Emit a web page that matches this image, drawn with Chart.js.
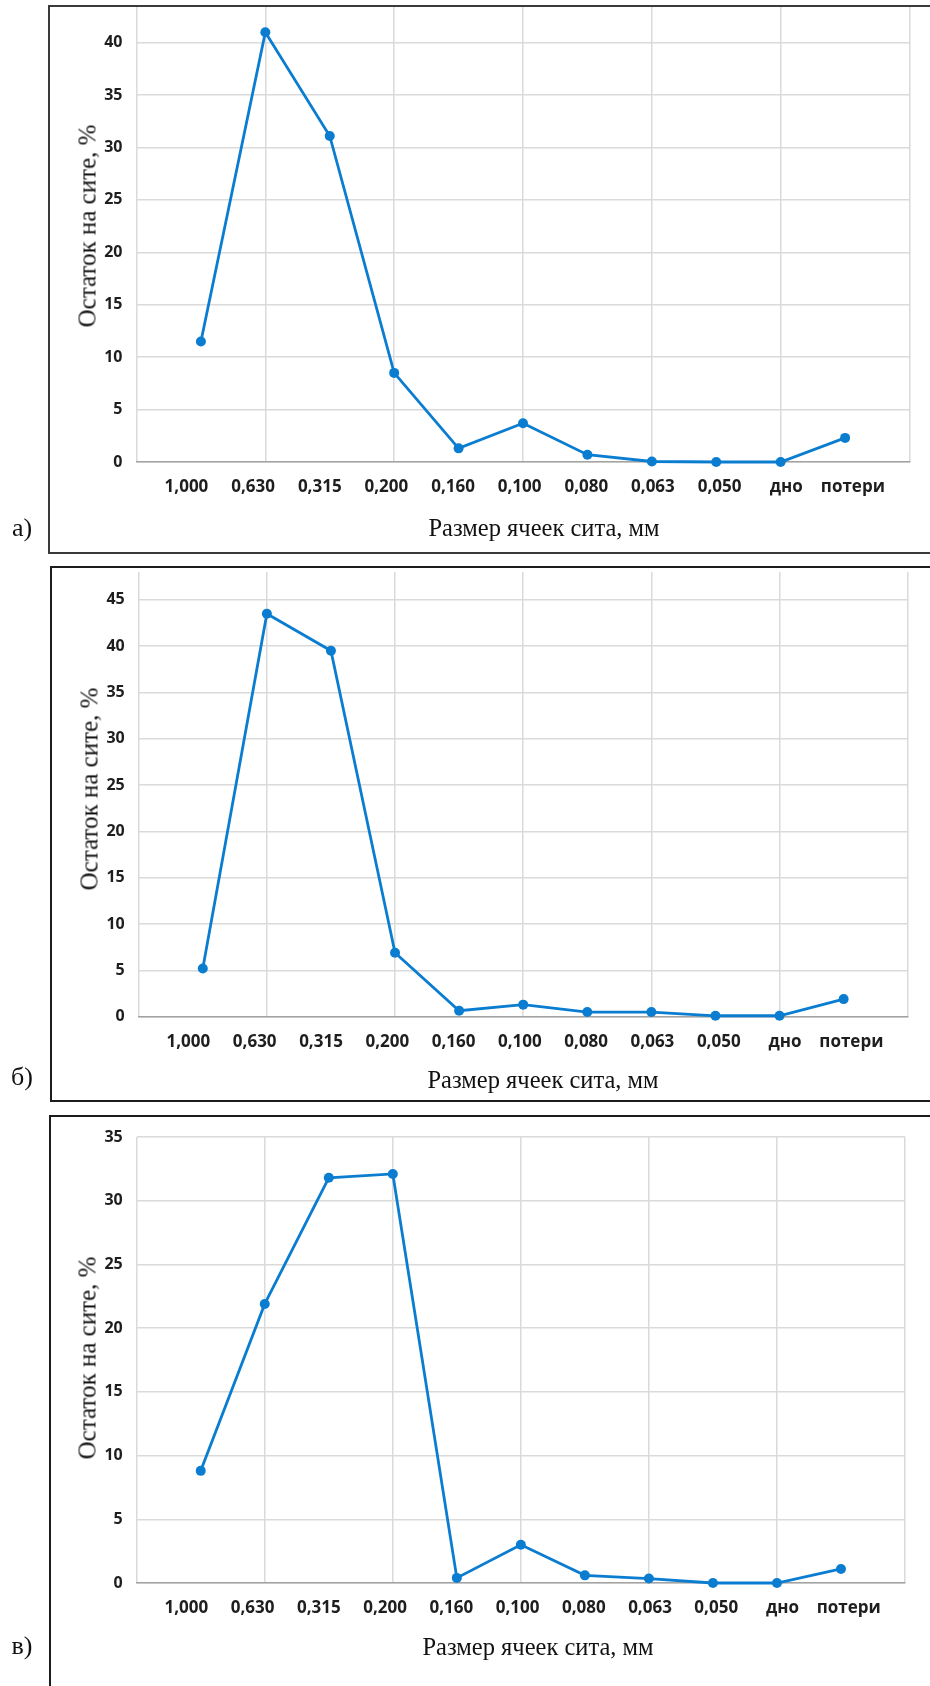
<!DOCTYPE html>
<html lang="ru">
<head>
<meta charset="utf-8">
<title>Остаток на сите</title>
<script src="https://cdn.jsdelivr.net/npm/chart.js@4.4.1/dist/chart.umd.min.js"></script>
<style>
  html, body { margin: 0; padding: 0; background: #fff; }
  body { position: relative; width: 930px; height: 1686px; overflow: hidden; }
  canvas { position: absolute; left: 0; }
  .box { position: absolute; box-sizing: border-box; border: 2px solid #1c1c1c; pointer-events: none; z-index: 2; }
  .xtitle, .ytitle, .letter {
    position: absolute; font-family: 'Liberation Serif', 'Times New Roman', serif;
    color: #111; white-space: nowrap; line-height: 1;
  }
  .xtitle { font-size: 24.5px; transform: translate(-50%, -50%); }
  .ytitle { font-size: 25px; transform: translate(-50%, -50%) rotate(-90deg); }
  .letter { font-size: 26px; transform: translate(-50%, -50%); }
</style>
</head>
<body>

<!-- рамки трёх рисунков -->
<div class="box" style="left:48px; top:5px; width:912px; height:549px; border-color:#3a3a3a;"></div>
<div class="box" style="left:50px; top:566px; width:912px; height:536px;"></div>
<div class="box" style="left:49px; top:1115px; width:912px; height:700px;"></div>

<canvas id="chartA" width="930" height="553" style="top:0px;"></canvas>
<canvas id="chartB" width="930" height="534" style="top:567px;"></canvas>
<canvas id="chartC" width="930" height="570" style="top:1116px;"></canvas>

<!-- подписи осей и буквы рисунков -->
<div class="ytitle" style="left:87px; top:226px;">Остаток на сите, %</div>
<div class="ytitle" style="left:89px; top:789px;">Остаток на сите, %</div>
<div class="ytitle" style="left:87px; top:1358px;">Остаток на сите, %</div>

<div class="xtitle" style="left:544px; top:528px;">Размер ячеек сита, мм</div>
<div class="xtitle" style="left:543px; top:1080px;">Размер ячеек сита, мм</div>
<div class="xtitle" style="left:538px; top:1647px;">Размер ячеек сита, мм</div>

<div class="letter" style="left:22px; top:528px;">а)</div>
<div class="letter" style="left:22px; top:1077px;">б)</div>
<div class="letter" style="left:22px; top:1646px;">в)</div>

<script>
// --- ДАННЫЕ ---

// Размер ячеек сита (подписи оси X)
const sieveLabels = ['1,000', '0,630', '0,315', '0,200', '0,160', '0,100', '0,080', '0,063', '0,050', 'дно', 'потери'];

// Остаток на сите, % — рисунки а), б), в)
const residueA = [11.5, 41.0, 31.1, 8.5, 1.3, 3.7, 0.7, 0.05, 0.0, 0.0, 2.3];
const residueB = [5.2, 43.5, 39.5, 6.9, 0.65, 1.3, 0.5, 0.5, 0.1, 0.1, 1.9];
const residueC = [8.8, 21.9, 31.8, 32.1, 0.4, 3.0, 0.6, 0.35, 0.0, 0.0, 1.1];

// Верхняя граница шкалы Y на каждом рисунке
const yMaxA = 43.5;
const yMaxB = 48;
const yMaxC = 35;

// --- СТИЛЬ ---
const lineColor = '#0a7dd0';
const gridColor = '#dadada';
const axisColor = '#a3a3a3';
const tickColor = '#1e1e1e';

Chart.defaults.font.family = "'Open Sans', 'DejaVu Sans', sans-serif";

/**
 * Строит один график остатка на сите.
 * geom: отступы и размеры полос осей, чтобы область построения совпала с оригиналом.
 */
function buildPanel(canvasId, values, yMax, geom) {
    const ctx = document.getElementById(canvasId);
    const points = values.map((v, i) => ({ x: i + 1, y: v }));

    return new Chart(ctx, {
        type: 'line',
        data: {
            datasets: [{
                data: points,
                borderColor: lineColor,
                backgroundColor: lineColor,
                borderWidth: 2.8,
                pointRadius: 5,
                pointBorderWidth: 0,
                pointBackgroundColor: lineColor,
                tension: 0,
                clip: false
            }]
        },
        options: {
            responsive: false,
            animation: false,
            layout: { padding: { top: geom.top, right: geom.right, left: 0, bottom: 0 } },
            plugins: { legend: { display: false }, tooltip: { enabled: false } },
            scales: {
                // ось с сеткой: точки стоят на 1..11 шкалы 0..12, сетка через 2
                x: {
                    type: 'linear',
                    position: 'bottom',
                    min: 0,
                    max: 12,
                    weight: 0,
                    ticks: { display: false, stepSize: 2 },
                    grid: { color: gridColor, lineWidth: 1.5, drawTicks: false },
                    border: { display: true, color: axisColor, width: 1.6 },
                    afterFit: s => { s.height = 0; s.paddingLeft = 0; s.paddingRight = 0; }
                },
                // ось подписей: в оригинале подписи набраны строкой и стоят чуть шире точек
                xl: {
                    type: 'linear',
                    position: 'bottom',
                    min: 0.25,
                    max: 11.85,
                    weight: 1,
                    grid: { display: false, drawTicks: false },
                    border: { display: false },
                    afterBuildTicks: s => { s.ticks = sieveLabels.map((_, i) => ({ value: i + 1 })); },
                    ticks: {
                        autoSkip: false,
                        maxRotation: 0,
                        padding: 15,
                        color: tickColor,
                        font: { size: 17, weight: '700', lineHeight: 1.2 },
                        callback: v => sieveLabels[v - 1] || ''
                    },
                    afterFit: s => { s.height = geom.labelBand; s.paddingLeft = 0; s.paddingRight = 0; }
                },
                y: {
                    min: 0,
                    max: yMax,
                    ticks: {
                        stepSize: 5,
                        padding: 14,
                        color: tickColor,
                        font: { size: 16, weight: '700', lineHeight: 1.2 }
                    },
                    afterBuildTicks: s => { s.ticks = s.ticks.filter(t => t.value % 5 === 0); },
                    grid: { color: gridColor, lineWidth: 1.5, drawTicks: false },
                    border: { display: false },
                    // без этого Chart.js сдвигает область вниз под половину высоты подписи
                    afterFit: s => { s.width = geom.axisWidth; s.paddingTop = 0; s.paddingBottom = 0; }
                }
            }
        }
    });
}

buildPanel('chartA', residueA, yMaxA, { top: 6, right: 20.5, axisWidth: 136.5, labelBand: 91 });
buildPanel('chartB', residueB, yMaxB, { top: 1.5, right: 22.3, axisWidth: 138.7, labelBand: 84.3 });
buildPanel('chartC', residueC, yMaxC, { top: 21, right: 25, axisWidth: 136.7, labelBand: 103 });
</script>
</body>
</html>
